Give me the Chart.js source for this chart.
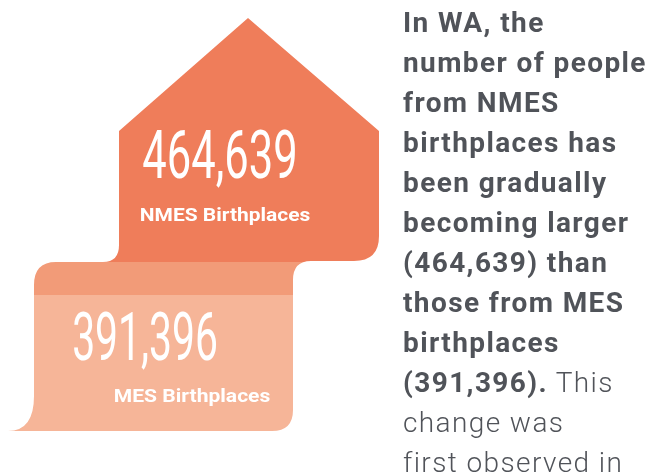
<!DOCTYPE html>
<html>
<head>
<meta charset="utf-8">
<script src="https://cdn.jsdelivr.net/npm/chart.js@4/dist/chart.umd.min.js"></script>
<style>
    html, body {
        margin: 0;
        padding: 0;
        width: 650px;
        height: 475px;
        overflow: hidden;
        background: #fff;
    }
    #infographic {
        position: absolute;
        left: 0;
        top: 0;
    }
    #summary {
        position: absolute;
        left: 403px;
        top: 3px;
        width: 260px;
        font-family: Roboto, sans-serif;
        font-size: 28px;
        font-weight: 300;
        line-height: 40px;
        letter-spacing: 1.4px;
        color: #505359;
        white-space: nowrap;
    }
    #summary b {
        font-weight: 700;
    }
</style>
</head>
<body>
<canvas id="infographic" width="650" height="475"></canvas>
<div id="summary">
    <b>In WA, the<br>number of people<br>from NMES<br>birthplaces has<br>been gradually<br>becoming larger<br>(<span class="v0"></span>) than<br>those from MES<br>birthplaces<br>(<span class="v1"></span>).</b> This<br>change was<br>first observed in
</div>
<script>
// data
const categories = ['NMES Birthplaces', 'MES Birthplaces'];
const birthplaceCounts = [464639, 391396];

// colours of the house (NMES), the fold strip and the lower band (MES)
const houseColor = '#ef7d5a';
const foldColor = '#f29b78';
const bandColor = '#f6b598';

// outline of the house + band, in px-scale units
// each step: ['M'|'L', x, y] or ['Q', cx, cy, x, y]
const outline = [
    ['M', 248, 18],
    ['L', 379, 131],
    ['L', 379, 236],
    ['Q', 379, 261, 354, 261],
    ['L', 311, 261],
    ['Q', 293, 261, 293, 280],
    ['L', 293, 410],
    ['Q', 293, 431, 272, 431],
    ['L', 8, 431],
    ['Q', 34, 431, 34, 396],
    ['L', 34, 285],
    ['Q', 34, 262, 56, 262],
    ['L', 103, 262],
    ['Q', 119, 262, 119, 245],
    ['L', 119, 131]
];
const foldTop = 262;
const foldBottom = 295;

// where the numbers and names sit: left, baseline, ink width, font
const labelBoxes = [
    {num: {x: 143, y: 178, w: 152, font: '400 66px Roboto'},
     name: {x: 141, y: 221, w: 169, font: '700 18px Roboto'}},
    {num: {x: 74, y: 360, w: 142, font: '400 66px Roboto'},
     name: {x: 115, y: 402, w: 155, font: '700 18px Roboto'}}
];

function fmt(v) {
    return v.toLocaleString('en-US');
}

document.querySelector('#summary .v0').textContent = fmt(birthplaceCounts[0]);
document.querySelector('#summary .v1').textContent = fmt(birthplaceCounts[1]);

function fitText(ctx, text, box) {
    ctx.font = box.font;
    const m = ctx.measureText(text);
    const ink = m.actualBoundingBoxLeft + m.actualBoundingBoxRight;
    ctx.save();
    ctx.translate(box.x, box.y);
    ctx.scale(box.w / ink, 1);
    ctx.fillText(text, m.actualBoundingBoxLeft, 0);
    ctx.restore();
}

const infographicPlugin = {
    id: 'infographic',
    afterDatasetsDraw(chart) {
        const ctx = chart.ctx;
        const sx = chart.scales.px;
        const sy = chart.scales.py;
        const X = v => sx.getPixelForValue(v);
        const Y = v => sy.getPixelForValue(v);

        ctx.save();
        ctx.beginPath();
        outline.forEach(step => {
            if (step[0] === 'M') ctx.moveTo(X(step[1]), Y(step[2]));
            else if (step[0] === 'L') ctx.lineTo(X(step[1]), Y(step[2]));
            else ctx.quadraticCurveTo(X(step[1]), Y(step[2]), X(step[3]), Y(step[4]));
        });
        ctx.closePath();
        ctx.clip();

        const left = chart.chartArea.left;
        const width = chart.chartArea.right - left;
        ctx.fillStyle = houseColor;
        ctx.fillRect(left, Y(0), width, Y(foldTop) - Y(0));
        ctx.fillStyle = foldColor;
        ctx.fillRect(left, Y(foldTop), width, Y(foldBottom) - Y(foldTop));
        ctx.fillStyle = bandColor;
        ctx.fillRect(left, Y(foldBottom), width, Y(475) - Y(foldBottom));
        ctx.restore();

        // numbers and category names
        ctx.save();
        ctx.fillStyle = '#ffffff';
        ctx.textBaseline = 'alphabetic';
        ctx.textAlign = 'left';
        chart.data.datasets[0].data.forEach((v, i) => {
            const b = labelBoxes[i];
            fitText(ctx, fmt(v), {x: X(b.num.x), y: Y(b.num.y), w: b.num.w, font: b.num.font});
            fitText(ctx, chart.data.labels[i], {x: X(b.name.x), y: Y(b.name.y), w: b.name.w, font: b.name.font});
        });
        ctx.restore();
    }
};

new Chart(document.getElementById('infographic'), {
    type: 'bar',
    data: {
        labels: categories,
        datasets: [{
            data: birthplaceCounts,
            backgroundColor: 'rgba(0,0,0,0)',
            borderWidth: 0
        }]
    },
    options: {
        responsive: false,
        animation: false,
        layout: {padding: 0},
        plugins: {
            legend: {display: false},
            tooltip: {enabled: false}
        },
        scales: {
            x: {display: false},
            y: {display: false, beginAtZero: true},
            // pixel-like scales for the drawing (no category offset)
            px: {type: 'linear', axis: 'x', min: 0, max: 650, offset: false, display: false},
            py: {type: 'linear', axis: 'y', min: 0, max: 475, reverse: true, offset: false, display: false}
        }
    },
    plugins: [infographicPlugin]
});
</script>
</body>
</html>
